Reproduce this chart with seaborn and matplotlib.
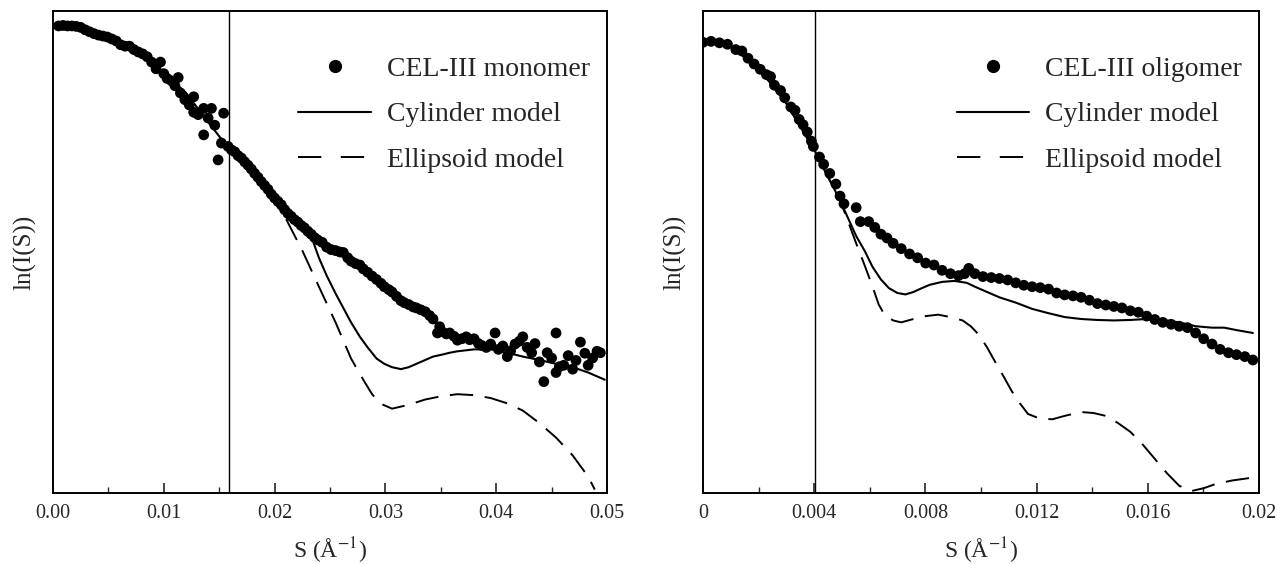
import matplotlib
matplotlib.use('Agg')
import matplotlib.pyplot as plt
from matplotlib.lines import Line2D
import seaborn as sns

# ---- data: CEL-III monomer (left panel) ----
mono_s = [0.0005, 0.0009, 0.0013, 0.0017, 0.0021, 0.0025, 0.0029, 0.0033, 0.0037, 0.0041,
          0.0045, 0.0049, 0.0053, 0.0057, 0.0061, 0.0065, 0.0069, 0.0073, 0.0077, 0.0081,
          0.0085, 0.0089, 0.0093, 0.0097, 0.0100, 0.0103, 0.0107, 0.0110, 0.0113, 0.0115,
          0.0119, 0.0123, 0.0127, 0.0127, 0.0131, 0.0136, 0.0136, 0.0140, 0.0143, 0.0146,
          0.0149, 0.0152, 0.0154, 0.0158, 0.0161, 0.0164, 0.0167, 0.0170, 0.0173, 0.0176,
          0.0179, 0.0182, 0.0185, 0.0188, 0.0191, 0.0194, 0.0197, 0.0200, 0.0203, 0.0206,
          0.0209, 0.0212, 0.0215, 0.0218, 0.0221, 0.0224, 0.0227, 0.0230, 0.0233, 0.0236,
          0.0239, 0.0243, 0.0247, 0.0251, 0.0255, 0.0259, 0.0262, 0.0266, 0.0269, 0.0273,
          0.0277, 0.0280, 0.0284, 0.0288, 0.0292, 0.0296, 0.0299, 0.0303, 0.0306, 0.0310,
          0.0314, 0.0317, 0.0321, 0.0325, 0.0328, 0.0332, 0.0336, 0.0340, 0.0343, 0.0347,
          0.0349, 0.0351, 0.0355, 0.0358, 0.0362, 0.0365, 0.0369, 0.0373, 0.0376, 0.0380,
          0.0384, 0.0387, 0.0391, 0.0395, 0.0399, 0.0402, 0.0406, 0.0410, 0.0413, 0.0417,
          0.0421, 0.0424, 0.0428, 0.0432, 0.0435, 0.0439, 0.0443, 0.0446, 0.0450, 0.0454,
          0.0454, 0.0457, 0.0461, 0.0465, 0.0469, 0.0472, 0.0476, 0.0480, 0.0483, 0.0487,
          0.0491, 0.0494]
mono_ln = [9.69, 9.70, 9.69, 9.69, 9.68, 9.66, 9.61, 9.57, 9.53, 9.50,
           9.48, 9.46, 9.42, 9.38, 9.30, 9.27, 9.27, 9.20, 9.15, 9.11,
           9.05, 8.94, 8.80, 8.94, 8.70, 8.60, 8.55, 8.45, 8.62, 8.30,
           8.16, 8.05, 8.22, 7.90, 7.85, 7.98, 7.43, 7.78, 7.98, 7.63,
           6.91, 7.26, 7.88, 7.19, 7.12, 7.08, 7.00, 6.95, 6.87, 6.80,
           6.72, 6.63, 6.55, 6.46, 6.38, 6.30, 6.20, 6.12, 6.05, 5.98,
           5.88, 5.80, 5.74, 5.67, 5.62, 5.55, 5.50, 5.43, 5.37, 5.30,
           5.25, 5.20, 5.10, 5.05, 5.03, 5.00, 4.99, 4.88, 4.81, 4.76,
           4.73, 4.65, 4.58, 4.50, 4.43, 4.35, 4.28, 4.22, 4.17, 4.08,
           3.99, 3.95, 3.91, 3.86, 3.84, 3.80, 3.76, 3.68, 3.61, 3.32,
           3.45, 3.35, 3.30, 3.32, 3.25, 3.17, 3.20, 3.24, 3.18, 3.20,
           3.10, 3.06, 3.02, 3.09, 3.32, 2.98, 3.05, 2.83, 2.95, 3.09,
           3.15, 3.24, 3.02, 2.91, 3.10, 2.72, 2.31, 2.91, 2.80, 3.32,
           2.50, 2.62, 2.65, 2.85, 2.57, 2.75, 3.13, 2.90, 2.65, 2.80,
           2.94, 2.91]

mono_cyl_s = [0.0000, 0.0040, 0.0080, 0.0120, 0.0160, 0.0190, 0.0210, 0.0218, 0.0225, 0.0233,
              0.0240, 0.0247, 0.0255, 0.0262, 0.0269, 0.0277, 0.0284, 0.0292, 0.0299, 0.0306,
              0.0314, 0.0321, 0.0328, 0.0336, 0.0343, 0.0351, 0.0358, 0.0365, 0.0380, 0.0395,
              0.0410, 0.0424, 0.0439, 0.0454, 0.0469, 0.0483, 0.0498]
mono_cyl_ln = [9.72, 9.55, 9.12, 8.30, 7.10, 6.40, 5.78, 5.62, 5.48, 5.33,
               4.88, 4.51, 4.14, 3.84, 3.54, 3.24, 3.02, 2.79, 2.68, 2.61,
               2.57, 2.61, 2.68, 2.76, 2.83, 2.87, 2.91, 2.94, 2.98, 2.98,
               2.91, 2.83, 2.76, 2.68, 2.61, 2.50, 2.35]

mono_ell_s = [0.0000, 0.0040, 0.0080, 0.0120, 0.0160, 0.0190, 0.0210, 0.0225, 0.0240, 0.0255,
              0.0269, 0.0280, 0.0288, 0.0295, 0.0306, 0.0321, 0.0336, 0.0351, 0.0365, 0.0380,
              0.0395, 0.0410, 0.0424, 0.0439, 0.0454, 0.0469, 0.0483, 0.0489]
mono_ell_ln = [9.72, 9.55, 9.12, 8.30, 7.10, 6.40, 5.70, 5.03, 4.28, 3.54,
               2.79, 2.35, 2.05, 1.86, 1.75, 1.83, 1.94, 2.01, 2.05, 2.03,
               1.97, 1.86, 1.71, 1.45, 1.15, 0.78, 0.34, 0.07]

# ---- data: CEL-III oligomer (right panel) ----
olig_s = [0.00000, 0.00029, 0.00059, 0.00088, 0.00118, 0.00140, 0.00162, 0.00184, 0.00206, 0.00228,
          0.00243, 0.00257, 0.00279, 0.00294, 0.00316, 0.00331, 0.00346, 0.00360, 0.00375, 0.00390,
          0.00397, 0.00419, 0.00434, 0.00456, 0.00478, 0.00493, 0.00507, 0.00551, 0.00566, 0.00596,
          0.00618, 0.00640, 0.00662, 0.00684, 0.00713, 0.00743, 0.00772, 0.00801, 0.00831, 0.00860,
          0.00890, 0.00919, 0.00941, 0.00956, 0.00978, 0.01007, 0.01037, 0.01066, 0.01096, 0.01125,
          0.01154, 0.01184, 0.01213, 0.01243, 0.01272, 0.01301, 0.01331, 0.01360, 0.01390, 0.01419,
          0.01449, 0.01478, 0.01507, 0.01537, 0.01566, 0.01596, 0.01625, 0.01654, 0.01684, 0.01713,
          0.01743, 0.01772, 0.01801, 0.01831, 0.01860, 0.01890, 0.01919, 0.01949, 0.01978]
olig_ln = [9.35, 9.37, 9.34, 9.31, 9.20, 9.17, 9.02, 8.90, 8.79, 8.68,
           8.64, 8.46, 8.35, 8.20, 8.01, 7.94, 7.75, 7.64, 7.49, 7.30,
           7.19, 6.97, 6.82, 6.63, 6.41, 6.16, 6.00, 5.92, 5.63, 5.63,
           5.51, 5.37, 5.29, 5.18, 5.07, 4.96, 4.88, 4.77, 4.73, 4.62,
           4.55, 4.51, 4.55, 4.66, 4.55, 4.49, 4.47, 4.45, 4.42, 4.36,
           4.31, 4.28, 4.26, 4.23, 4.15, 4.11, 4.09, 4.06, 4.00, 3.93,
           3.90, 3.87, 3.84, 3.78, 3.75, 3.67, 3.60, 3.54, 3.50, 3.46,
           3.43, 3.32, 3.20, 3.09, 2.98, 2.91, 2.87, 2.83, 2.76]

olig_cyl_s = [0.00000, 0.00100, 0.00200, 0.00300, 0.00400, 0.00493, 0.00522, 0.00551, 0.00581, 0.00610,
              0.00640, 0.00669, 0.00699, 0.00728, 0.00757, 0.00787, 0.00816, 0.00860, 0.00904, 0.00949,
              0.00978, 0.01022, 0.01066, 0.01125, 0.01184, 0.01243, 0.01301, 0.01360, 0.01419, 0.01478,
              0.01537, 0.01596, 0.01654, 0.01713, 0.01772, 0.01831, 0.01875, 0.01919, 0.01978]
olig_cyl_ln = [9.36, 9.26, 8.82, 8.08, 7.12, 6.07, 5.70, 5.33, 5.03, 4.69,
               4.43, 4.25, 4.15, 4.12, 4.17, 4.25, 4.32, 4.38, 4.40, 4.36,
               4.28, 4.17, 4.06, 3.95, 3.82, 3.73, 3.65, 3.61, 3.59, 3.58,
               3.59, 3.61, 3.59, 3.54, 3.46, 3.43, 3.43, 3.38, 3.32]

olig_ell_s = [0.00000, 0.00100, 0.00200, 0.00300, 0.00400, 0.00493, 0.00522, 0.00551, 0.00581, 0.00610,
              0.00632, 0.00654, 0.00684, 0.00713, 0.00757, 0.00801, 0.00846, 0.00890, 0.00934, 0.00963,
              0.00993, 0.01022, 0.01051, 0.01081, 0.01110, 0.01140, 0.01169, 0.01213, 0.01257, 0.01301,
              0.01360, 0.01404, 0.01449, 0.01493, 0.01537, 0.01581, 0.01625, 0.01669, 0.01713, 0.01757,
              0.01801, 0.01846, 0.01904, 0.01978]
olig_ell_ln = [9.36, 9.26, 8.82, 8.08, 7.12, 6.07, 5.63, 5.18, 4.73, 4.28,
               3.91, 3.69, 3.58, 3.54, 3.61, 3.67, 3.70, 3.65, 3.58, 3.46,
               3.28, 3.02, 2.72, 2.42, 2.12, 1.86, 1.64, 1.54, 1.53, 1.60,
               1.68, 1.66, 1.60, 1.45, 1.27, 1.01, 0.71, 0.41, 0.15, 0.04,
               0.10, 0.19, 0.26, 0.32]

x_ticks_left = [0.00, 0.01, 0.02, 0.03, 0.04, 0.05]
x_ticklabels_left = ['0.00', '0.01', '0.02', '0.03', '0.04', '0.05']
x_ticks_right = [0, 0.004, 0.008, 0.012, 0.016, 0.02]
x_ticklabels_right = ['0', '0.004', '0.008', '0.012', '0.016', '0.02']

sns.set_style('ticks')
plt.rcParams['font.family'] = ['Liberation Serif', 'DejaVu Serif']
plt.rcParams['mathtext.fontset'] = 'stix'
plt.rcParams['axes.linewidth'] = 1.4

W, H = 1281, 564
fig = plt.figure(figsize=(W / 100, H / 100), dpi=100)
ax1 = fig.add_axes([53 / W, 1 - 493 / H, (607 - 53) / W, (493 - 11) / H])
ax2 = fig.add_axes([703 / W, 1 - 493 / H, (1259 - 703) / W, (493 - 11) / H])

dash = (0, (12, 6))


def panel(ax, s, ln, cs, cl, es, el, vline, xmax, ticks, labels, minor, name):
    sns.lineplot(x=cs, y=cl, ax=ax, color='black', lw=1.5, estimator=None, sort=False)
    sns.lineplot(x=es, y=el, ax=ax, color='black', lw=1.4, estimator=None, sort=False,
                 linestyle=dash)
    sns.scatterplot(x=s, y=ln, ax=ax, color='black', s=60, edgecolor='none', zorder=3)
    ax.axvline(vline, color='black', lw=1.0)
    ax.set_xlim(0, xmax)
    ax.set_ylim(0, 10)
    ax.set_xticks(ticks)
    ax.set_xticklabels(labels)
    ax.set_xticks(minor, minor=True)
    ax.set_yticks([])
    ax.tick_params(axis='x', which='major', direction='in', length=7, width=1.2,
                   labelsize=14.5, pad=8)
    ax.tick_params(axis='x', which='minor', direction='in', length=4, width=1.0)
    for sp in ax.spines.values():
        sp.set_visible(True)
        sp.set_color('black')
    ax.set_xlabel(r'S (Å$^{-1}$)', fontsize=17, labelpad=9)
    ax.set_ylabel('ln(I(S))', fontsize=18, labelpad=12)
    handles = [
        Line2D([], [], color='black', marker='o', linestyle='none', markersize=8.5),
        Line2D([], [], color='black', lw=1.5),
        Line2D([], [], color='black', lw=1.4, linestyle=(0, (12, 10))),
    ]
    ax.legend(handles, [name, 'Cylinder model', 'Ellipsoid model'], loc='upper right',
              bbox_to_anchor=(1.0, 0.94), frameon=False, fontsize=20,
              handlelength=2.6, handletextpad=0.6, labelspacing=0.72, borderaxespad=0.2)


panel(ax1, mono_s, mono_ln, mono_cyl_s, mono_cyl_ln, mono_ell_s, mono_ell_ln,
      0.0159, 0.05, x_ticks_left, x_ticklabels_left,
      [0.005, 0.015, 0.025, 0.035, 0.045], 'CEL-III monomer')
panel(ax2, olig_s, olig_ln, olig_cyl_s, olig_cyl_ln, olig_ell_s, olig_ell_ln,
      0.00404, 0.02, x_ticks_right, x_ticklabels_right,
      [0.002, 0.006, 0.010, 0.014, 0.018], 'CEL-III oligomer')

fig.savefig('out.png', dpi=100)
